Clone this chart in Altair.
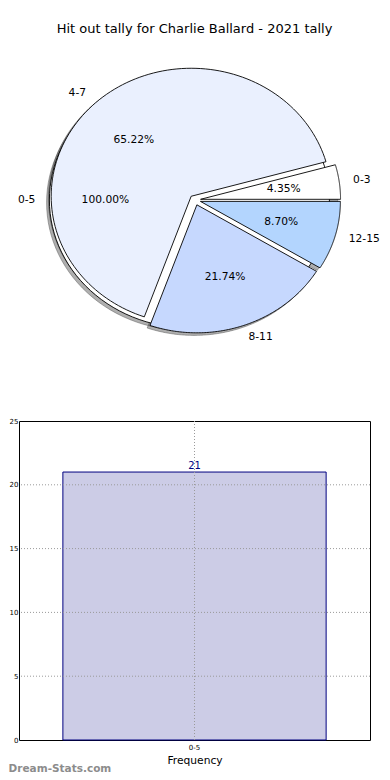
import altair as alt
import pandas as pd

# ---------------- data ----------------
TITLE = "Hit out tally for Charlie Ballard - 2021 tally"

slice_labels = ["0-3", "4-7", "8-11", "12-15"]
slice_values = [1, 15, 5, 2]
slice_colors = ["#ffffff", "#eaf0fe", "#c6d8fe", "#b3d5fe"]

total_labels = ["0-5"]
total_values = [21]
total_colors = ["#ffffff"]

bar_categories = ["0-5"]
bar_values = [21]
y_tick_values = [0, 5, 10, 15, 20, 25]
x_title = "Frequency"
watermark = "Dream-Stats.com"

# ---------------- style / layout ----------------
FONT = "DejaVu Sans"
PANEL_W = 351
PIE_H = 300
BAR_H = 319
CX, CY, RX, RY = 176, 149, 140, 128
EXPLODE = 0.04
SHADOW = 0.02
N = 120

rows = []
for i, (l, v, c) in enumerate(zip(total_labels, total_values, total_colors)):
    rows.append({"pie": "total", "i": i, "label": l, "value": v, "color": c})
for i, (l, v, c) in enumerate(zip(slice_labels, slice_values, slice_colors)):
    rows.append({"pie": "slices", "i": i, "label": l, "value": v, "color": c})
pie_df = pd.DataFrame(rows)

xs = alt.Scale(domain=[-1, 1], range=[CX - RX, CX + RX], nice=False, zero=False)
ys = alt.Scale(domain=[-1, 1], range=[CY + RY, CY - RY], nice=False, zero=False)

base = (
    alt.Chart(pie_df)
    .transform_joinaggregate(total="sum(value)", groupby=["pie"])
    .transform_window(cum="sum(value)", groupby=["pie"],
                      sort=[alt.SortField("i")], frame=[None, 0])
    .transform_calculate(a0="2 * PI * (datum.cum - datum.value) / datum.total")
    .transform_calculate(a1="2 * PI * datum.cum / datum.total")
    .transform_calculate(mid="(datum.a0 + datum.a1) / 2")
    .transform_calculate(full="datum.a1 - datum.a0 > 6.283")
    .transform_calculate(ox=f"{EXPLODE} * cos(datum.mid)")
    .transform_calculate(oy=f"{EXPLODE} * sin(datum.mid)")
    .transform_calculate(pct="format(100 * datum.value / datum.total, '.2f') + '%'")
)

poly = (
    base.transform_calculate(pts=f"sequence(0, {N + 3})")
    .transform_flatten(["pts"], as_=["k"])
    .transform_calculate(r=f"((datum.k == 0 || datum.k == {N + 2}) && !datum.full) ? 0 : 1")
    .transform_calculate(a=f"datum.a0 + (datum.a1 - datum.a0) * clamp(datum.k - 1, 0, {N}) / {N}")
    .transform_calculate(px="datum.ox + datum.r * cos(datum.a)")
    .transform_calculate(py="datum.oy + datum.r * sin(datum.a)")
    .transform_calculate(sx=f"datum.px - {SHADOW}")
    .transform_calculate(sy=f"datum.py - {SHADOW}")
)

shadow = poly.mark_line(
    filled=True, fill="#4d4d4d", fillOpacity=0.45,
    stroke="#4d4d4d", strokeOpacity=0.45, strokeWidth=1,
).encode(
    x=alt.X("sx:Q", scale=xs, axis=None),
    y=alt.Y("sy:Q", scale=ys, axis=None),
    detail=["pie:N", "label:N"],
    order=alt.Order("k:Q"),
)


def wedges(which):
    return poly.transform_filter(f"datum.pie == '{which}'").mark_line(
        filled=True, stroke="black", strokeWidth=0.9, strokeJoin="round"
    ).encode(
        x=alt.X("px:Q", scale=xs, axis=None),
        y=alt.Y("py:Q", scale=ys, axis=None),
        detail=["pie:N", "label:N"],
        order=alt.Order("k:Q"),
        fill=alt.Fill("color:N", scale=None),
    )


lab = (
    base.transform_calculate(lx="datum.ox + 1.1 * cos(datum.mid)")
    .transform_calculate(ly="datum.oy + 1.1 * sin(datum.mid)")
    .transform_calculate(tx="datum.ox + 0.6 * cos(datum.mid)")
    .transform_calculate(ty="datum.oy + 0.6 * sin(datum.mid)")
)
text_style = dict(baseline="middle", font=FONT, fontSize=10.7, color="black")
lab_right = lab.transform_filter("datum.lx > 0").mark_text(align="left", **text_style).encode(
    x=alt.X("lx:Q", scale=xs, axis=None), y=alt.Y("ly:Q", scale=ys, axis=None), text="label:N")
lab_left = lab.transform_filter("datum.lx <= 0").mark_text(align="right", **text_style).encode(
    x=alt.X("lx:Q", scale=xs, axis=None), y=alt.Y("ly:Q", scale=ys, axis=None), text="label:N")
pct = lab.mark_text(align="center", **text_style).encode(
    x=alt.X("tx:Q", scale=xs, axis=None), y=alt.Y("ty:Q", scale=ys, axis=None), text="pct:N")

pie_chart = alt.layer(
    shadow, wedges("total"), wedges("slices"), lab_left, lab_right, pct
).properties(
    width=PANEL_W, height=PIE_H,
    title=alt.TitleParams(TITLE, fontSize=13, font=FONT, fontWeight="normal",
                          color="black", offset=15, anchor="middle", frame="group"),
    view=alt.ViewBackground(stroke="transparent"),
)

# ---------------- bar chart ----------------
bar_df = pd.DataFrame({"cat": bar_categories, "value": bar_values})
grid_df = pd.DataFrame({"tick": [t for t in y_tick_values if 0 < t < 25]})
bx = alt.Scale(domain=bar_categories, paddingInner=0, paddingOuter=1 / 6)
by = alt.Scale(domain=[0, 25], nice=False)

axis_common = dict(domain=False, ticks=False, grid=False, labelFont=FONT,
                   labelFontSize=7, labelColor="black")

bars = alt.Chart(bar_df).mark_bar(
    fill="navy", fillOpacity=0.2, stroke="navy", strokeWidth=1
).encode(
    x=alt.X("cat:N", scale=bx, axis=alt.Axis(
        title=x_title, labelAngle=0, labelPadding=3, titlePadding=5.5,
        titleFont=FONT, titleFontSize=10.7, titleFontWeight="normal",
        titleColor="black", **axis_common)),
    y=alt.Y("value:Q", scale=by, axis=alt.Axis(
        title=None, values=y_tick_values, labelPadding=1, **axis_common)),
)
grid_style = dict(color="#9a9a9a", strokeWidth=1, strokeDash=[1, 2])
hgrid = alt.Chart(grid_df).mark_rule(**grid_style).encode(y=alt.Y("tick:Q", scale=by))
vgrid = alt.Chart(bar_df).mark_rule(**grid_style).encode(x=alt.X("cat:N", scale=bx))
bar_text = alt.Chart(bar_df).mark_text(
    baseline="bottom", dy=-1.5, color="navy", fontSize=10, font=FONT
).encode(x=alt.X("cat:N", scale=bx), y=alt.Y("value:Q", scale=by), text="value:Q")

bar_chart = alt.layer(bars, hgrid, vgrid, bar_text).properties(
    width=PANEL_W, height=BAR_H,
    view=alt.ViewBackground(stroke="black", strokeWidth=1),
)

chart = alt.vconcat(
    pie_chart, bar_chart, spacing=64,
    padding={"left": 0, "top": 14, "right": 0, "bottom": 0},
    title=alt.TitleParams(watermark, orient="bottom", anchor="start", fontSize=10.5,
                          fontWeight="bold", color="#8c8c8c", font=FONT, offset=-2),
).configure(font=FONT)

chart.save("out.html", embed_options={"renderer": "svg", "actions": False})
